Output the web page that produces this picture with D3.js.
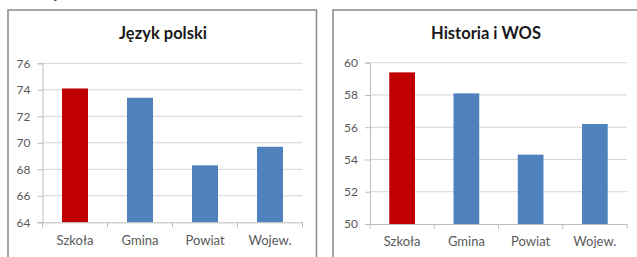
<!DOCTYPE html>
<html><head><meta charset="utf-8">
<script src="https://cdn.jsdelivr.net/npm/d3@7"></script>
<style>
html,body{margin:0;padding:0;background:#fff;}
svg{display:block;}
text{font-family:Lato, "Open Sans", sans-serif;}
</style></head>
<body>
<svg id="c" width="637" height="257"></svg>
<script>
const categories = ["Szkoła", "Gmina", "Powiat", "Wojew."];
const polskiTitle = "Język polski";
const polskiValues = [74.1, 73.4, 68.3, 69.7];
const polskiTicks = [64, 66, 68, 70, 72, 74, 76];
const historiaTitle = "Historia i WOS";
const historiaValues = [59.4, 58.1, 54.3, 56.2];
const historiaTicks = [50, 52, 54, 56, 58, 60];

const svg = d3.select("#c");

// cut-off text fragment at the very top (as in the reference)
svg.append("text").attr("x", 51).attr("y", -1).attr("font-size", 14).attr("fill", "#333").text("ę");

function drawChart(o) {
  const g = svg.append("g");
  g.append("rect").attr("x", o.frame[0]).attr("y", o.frame[1])
    .attr("width", o.frame[2]).attr("height", o.frame[3])
    .attr("fill", "#fff").attr("stroke", "#8f8f8f").attr("stroke-width", 1.6);

  const x = d3.scaleBand().domain(categories).range([o.x0, o.x1])
    .paddingInner(0.6).paddingOuter(0.3);
  const y = d3.scaleLinear().domain([o.ticks[0], o.ticks[o.ticks.length - 1]]).range([o.y0, o.y1]);

  g.append("g").selectAll("line").data(o.ticks.slice(1)).join("line")
    .attr("x1", o.x0).attr("x2", o.x1)
    .attr("y1", d => y(d)).attr("y2", d => y(d))
    .attr("stroke", "#d4d4d4").attr("stroke-width", 1);

  const ya = g.append("g").attr("transform", `translate(${o.x0},0)`)
    .call(d3.axisLeft(y).tickValues(o.ticks).tickSize(5).tickPadding(7).tickFormat(d3.format("d")));
  ya.select(".domain").attr("stroke", "#bdbdbd");
  ya.selectAll(".tick line").attr("stroke", "#bdbdbd");
  ya.selectAll(".tick text").attr("fill", "#595959").attr("font-size", 12).attr("font-family", "Lato, sans-serif");

  g.append("g").selectAll("rect").data(o.values).join("rect")
    .attr("x", (d, i) => x(categories[i]))
    .attr("width", x.bandwidth())
    .attr("y", d => y(d))
    .attr("height", d => y(o.ticks[0]) - y(d))
    .attr("fill", (d, i) => i === 0 ? "#c00000" : "#4f81bd");

  const xa = g.append("g").attr("transform", `translate(0,${o.y0})`)
    .call(d3.axisBottom(x).tickSize(0).tickPadding(13));
  xa.select(".domain").attr("stroke", "#bdbdbd");
  xa.selectAll(".tick text").attr("fill", "#595959").attr("font-size", 13).attr("font-family", "Lato, sans-serif");
  const bounds = d3.range(categories.length + 1).map(i => o.x0 + i * (o.x1 - o.x0) / categories.length);
  xa.append("g").selectAll("line").data(bounds).join("line")
    .attr("x1", d => d).attr("x2", d => d).attr("y1", 0).attr("y2", 5)
    .attr("stroke", "#bdbdbd");

  g.append("text").attr("x", o.titleX).attr("y", o.titleY)
    .attr("text-anchor", "middle").attr("font-size", 16.5).attr("font-weight", "bold")
    .attr("fill", "#1a1a1a").text(o.title);
}

drawChart({
  frame: [8, 10, 308.5, 260],
  x0: 42.5, x1: 302.5, y0: 222.3, y1: 63.3,
  ticks: polskiTicks, values: polskiValues,
  title: polskiTitle, titleX: 163, titleY: 39
});
drawChart({
  frame: [333, 10, 320, 260],
  x0: 370, x1: 627, y0: 224, y1: 62.7,
  ticks: historiaTicks, values: historiaValues,
  title: historiaTitle, titleX: 486, titleY: 39
});
</script>
</body></html>
